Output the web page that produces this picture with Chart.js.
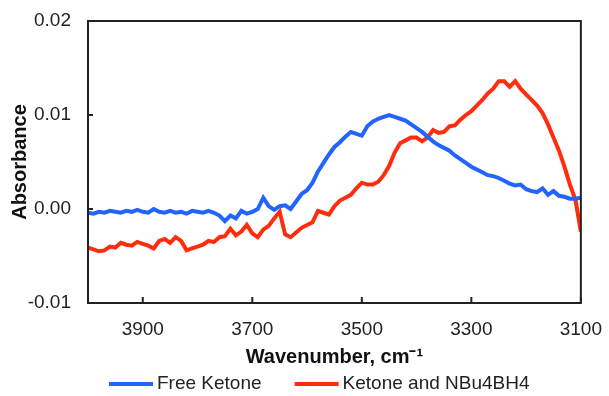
<!DOCTYPE html>
<html>
<head>
<meta charset="utf-8">
<script src="https://cdn.jsdelivr.net/npm/chart.js@4.4.1/dist/chart.umd.min.js"></script>
<style>
  html, body { margin: 0; padding: 0; background: #fff; }
  #wrap { width: 609px; height: 396px; }
</style>
</head>
<body>
<div id="wrap"><canvas id="chart" width="609" height="396"></canvas></div>
<script>
// wavenumbers, cm-1 (4000 -> 3100)
const wavenumbers = [
  4000, 3990, 3980, 3970, 3960, 3950, 3940, 3930, 3920, 3910,
  3900, 3890, 3880, 3870, 3860, 3850, 3840, 3830, 3820, 3810,
  3800, 3790, 3780, 3770, 3760, 3750, 3740, 3730, 3720, 3710,
  3700, 3690, 3680, 3670, 3660, 3650, 3640, 3630, 3620, 3610,
  3600, 3590, 3580, 3570, 3560, 3550, 3540, 3530, 3520, 3510,
  3500, 3490, 3480, 3470, 3460, 3450, 3440, 3430, 3420, 3410,
  3400, 3390, 3380, 3370, 3360, 3350, 3340, 3330, 3320, 3310,
  3300, 3290, 3280, 3270, 3260, 3250, 3240, 3230, 3220, 3210,
  3200, 3190, 3180, 3170, 3160, 3150, 3140, 3130, 3120, 3110,
  3100
];

const freeKetone = [
  -0.0004, -0.0005, -0.0003, -0.0004, -0.0002, -0.0003, -0.0004, -0.0002, -0.0003, -0.0001,
  -0.0003, -0.0004, 0.0000, -0.0003, -0.0004, -0.0002, -0.0004, -0.0003, -0.0005, -0.0002,
  -0.0003, -0.0004, -0.0002, -0.0004, -0.0007, -0.0013, -0.0007, -0.0010, -0.0002, -0.0005,
  -0.0003, 0.0000, 0.0012, 0.0003, -0.0001, 0.0003, 0.0004, 0.0000, 0.0008, 0.0016,
  0.0020, 0.0028, 0.0040, 0.0049, 0.0058, 0.0066, 0.0071, 0.0077, 0.0082, 0.0080,
  0.0078, 0.0088, 0.0093, 0.0096, 0.0098, 0.0100, 0.0098, 0.0096, 0.0094, 0.0090,
  0.0086, 0.0082, 0.0077, 0.0072, 0.0068, 0.0065, 0.0062, 0.0057, 0.0053, 0.0049,
  0.0045, 0.0042, 0.0039, 0.0036, 0.0035, 0.0033, 0.0030, 0.0027, 0.0025, 0.0026,
  0.0021, 0.0019, 0.0018, 0.0022, 0.0015, 0.0019, 0.0014, 0.0013, 0.0011, 0.0011,
  0.0012
];

const ketoneBH4 = [
  -0.0041, -0.0043, -0.0045, -0.0044, -0.0040, -0.0041, -0.0036, -0.0038, -0.0039, -0.0035,
  -0.0037, -0.0039, -0.0042, -0.0034, -0.0032, -0.0036, -0.0030, -0.0034, -0.0044, -0.0042,
  -0.0040, -0.0038, -0.0034, -0.0035, -0.0030, -0.0029, -0.0021, -0.0028, -0.0024, -0.0017,
  -0.0026, -0.0030, -0.0022, -0.0018, -0.0010, -0.0003, -0.0027, -0.0030, -0.0025, -0.0020,
  -0.0017, -0.0014, -0.0002, -0.0004, -0.0006, 0.0003, 0.0009, 0.0012, 0.0015, 0.0022,
  0.0028, 0.0026, 0.0026, 0.0029, 0.0036, 0.0046, 0.0060, 0.0070, 0.0073, 0.0076,
  0.0076, 0.0072, 0.0076, 0.0084, 0.0081, 0.0082, 0.0088, 0.0089, 0.0095, 0.0100,
  0.0104, 0.0110, 0.0116, 0.0123, 0.0128, 0.0136, 0.0136, 0.0130, 0.0136, 0.0128,
  0.0122, 0.0116, 0.0110, 0.0102, 0.0090, 0.0076, 0.0062, 0.0045, 0.0026, 0.0010,
  -0.0024
];

const seriesLabels = ['Free Ketone', 'Ketone and NBu4BH4'];
const seriesColors = ['#2164ff', '#ff2d0d'];
const xTicks = [3900, 3700, 3500, 3300, 3100];
const yTicks = [-0.01, 0, 0.01, 0.02];

const FONT = '"Liberation Sans", Arial, sans-serif';

function toPoints(values) {
  return wavenumbers.map((w, i) => ({ x: w, y: values[i] }));
}

// frame, inward tick marks and the legend row
const framePlugin = {
  id: 'frame',
  afterDatasetsDraw(chart) {
    const { ctx, chartArea: a, scales: { x, y } } = chart;
    ctx.save();
    ctx.strokeStyle = '#222';
    ctx.lineWidth = 2;
    ctx.strokeRect(a.left, a.top, a.right - a.left, a.bottom - a.top);
    ctx.beginPath();
    x.ticks.forEach(t => {
      const px = x.getPixelForValue(t.value);
      ctx.moveTo(px, a.bottom);
      ctx.lineTo(px, a.bottom - 6);
    });
    y.ticks.forEach(t => {
      const py = y.getPixelForValue(t.value);
      ctx.moveTo(a.left, py);
      ctx.lineTo(a.left + 5, py);
    });
    ctx.stroke();
    ctx.restore();
  },
  afterDraw(chart) {
    const ctx = chart.ctx;
    ctx.save();
    ctx.font = '19px ' + FONT;
    ctx.textBaseline = 'middle';
    ctx.fillStyle = '#222';
    let x = 109;
    const y = 384;
    chart.data.datasets.forEach(ds => {
      ctx.strokeStyle = ds.borderColor;
      ctx.lineWidth = 4;
      ctx.beginPath();
      ctx.moveTo(x, y);
      ctx.lineTo(x + 44, y);
      ctx.stroke();
      ctx.fillText(ds.label, x + 48, y);
      x += 48 + ctx.measureText(ds.label).width + 33;
    });
    ctx.restore();
  }
};

new Chart(document.getElementById('chart'), {
  type: 'line',
  data: {
    datasets: [
      { label: seriesLabels[0], data: toPoints(freeKetone), borderColor: seriesColors[0] },
      { label: seriesLabels[1], data: toPoints(ketoneBH4), borderColor: seriesColors[1] }
    ]
  },
  options: {
    responsive: false,
    animation: false,
    layout: { padding: { left: 0, top: 21, right: 25, bottom: 27 } },
    elements: {
      line: { borderWidth: 4, tension: 0 },
      point: { radius: 0 }
    },
    plugins: {
      legend: { display: false },
      tooltip: { enabled: false }
    },
    scales: {
      x: {
        type: 'linear',
        min: 3100,
        max: 4000,
        reverse: true,
        grid: { display: false },
        border: { display: false },
        afterBuildTicks: s => { s.ticks = xTicks.map(v => ({ value: v })); },
        afterFit: s => { s.height = 66; },
        ticks: {
          color: '#222',
          padding: 7,
          maxRotation: 0,
          font: { family: FONT, size: 19 },
          callback: v => String(v)
        },
        title: {
          display: true,
          text: 'Wavenumber, cm⁻¹',
          color: '#111',
          padding: { top: 0, bottom: 0 },
          font: { family: FONT, size: 20, weight: 'bold' }
        }
      },
      y: {
        min: -0.01,
        max: 0.02,
        grid: { display: false },
        border: { display: false },
        afterBuildTicks: s => { s.ticks = yTicks.map(v => ({ value: v })); },
        afterFit: s => { s.width = 88; },
        ticks: {
          color: '#222',
          padding: 9,
          font: { family: FONT, size: 19 },
          callback: v => v.toFixed(2)
        },
        title: {
          display: true,
          text: 'Absorbance',
          color: '#111',
          padding: { top: 8, bottom: 0 },
          font: { family: FONT, size: 20, weight: 'bold' }
        }
      }
    }
  },
  plugins: [framePlugin]
});
</script>
</body>
</html>
